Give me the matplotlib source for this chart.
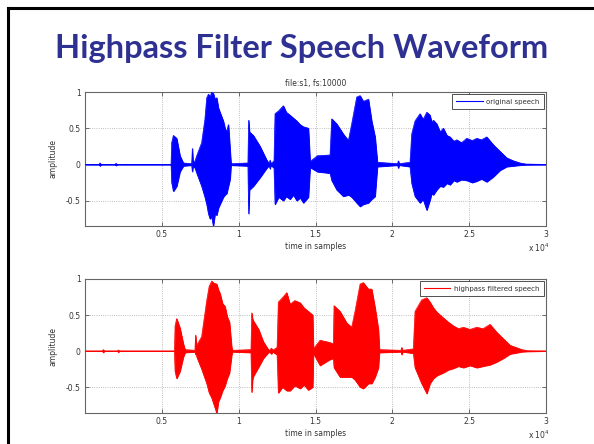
import numpy as np
import matplotlib
matplotlib.use("Agg")
import matplotlib.pyplot as plt
from matplotlib.lines import Line2D

# envelope of the speech signal (sample index, upper, lower)
t_orig = [0, 900, 976, 1050, 1950, 2017, 2090, 5600, 5640, 5750, 5965, 6180, 6400,
          6940, 6985, 7030, 7160, 7270, 7590, 7800, 7920, 8030, 8135, 8240, 8350,
          8460, 8570, 8680, 8785, 9000, 9110, 9220, 9330, 9440, 9500,
          10600, 10650, 10700, 10955, 11390, 11825, 11990, 12040,
          12090, 12300, 12365, 12600, 12905, 13100, 13340, 13560, 13780, 14000,
          14210, 14535, 14645, 15120,
          15945, 16055, 16380, 16810, 17140, 17355, 17680, 17900, 18110, 18440,
          18655, 18875, 19025, 20340, 20390, 20440, 21150, 21260, 21475, 21800,
          22000, 22240, 22450, 22560, 22670, 22890, 23100, 23320, 23550, 23755,
          24000, 24190, 24500, 24840, 25200, 25490, 25800, 26140,
          26575, 27010, 27445, 27875, 28310, 28700, 30000]
up_orig = [0, 0, 0.02, 0, 0, 0.015, 0, 0, 0.30, 0.40, 0.36, 0.12, 0.02,
           0.01, 0.22, 0.02, 0.05, 0.12, 0.30, 0.62, 0.92, 0.97, 0.93, 1.00, 0.98,
           0.90, 0.92, 0.78, 0.72, 0.60, 0.50, 0.45, 0.55, 0.20, 0.01,
           0.02, 0.61, 0.45, 0.40, 0.25, 0.06, 0.01, 0.06,
           0.01, 0.05, 0.70, 0.74, 0.81, 0.72, 0.68, 0.64, 0.60, 0.55,
           0.52, 0.50, 0.04, 0.12,
           0.13, 0.63, 0.56, 0.42, 0.33, 0.56, 0.93, 0.95, 0.87, 0.90,
           0.60, 0.38, 0.03, 0.01, 0.05, 0.01, 0.03, 0.42, 0.60, 0.70,
           0.62, 0.72, 0.68, 0.58, 0.61, 0.56, 0.45, 0.50, 0.40, 0.38,
           0.32, 0.34, 0.30, 0.36, 0.33, 0.36, 0.34, 0.38,
           0.27, 0.18, 0.09, 0.05, 0.02, 0.005, 0]
lo_orig = [0, 0, -0.02, 0, 0, -0.015, 0, 0, -0.25, -0.37, -0.30, -0.10, -0.02,
           -0.01, -0.10, -0.02, -0.05, -0.12, -0.30, -0.45, -0.55, -0.68, -0.75, -0.72, -0.85,
           -0.68, -0.70, -0.60, -0.55, -0.45, -0.42, -0.40, -0.30, -0.20, -0.01,
           -0.02, -0.68, -0.35, -0.30, -0.18, -0.05, -0.01, -0.06,
           -0.01, -0.05, -0.55, -0.45, -0.50, -0.44, -0.48, -0.42, -0.50, -0.46,
           -0.53, -0.45, -0.04, -0.10,
           -0.12, -0.22, -0.35, -0.44, -0.42, -0.45, -0.53, -0.58, -0.55, -0.53,
           -0.48, -0.44, -0.03, -0.01, -0.05, -0.01, -0.03, -0.26, -0.44, -0.53,
           -0.48, -0.63, -0.49, -0.40, -0.42, -0.35, -0.30, -0.31, -0.26, -0.28,
           -0.22, -0.24, -0.21, -0.22, -0.25, -0.23, -0.20, -0.24,
           -0.17, -0.08, -0.03, -0.02, -0.01, -0.005, 0]

# envelope after the highpass filter
t_hp = [0, 1120, 1190, 1260, 2100, 2170, 2240, 5820, 5860, 5965, 6180, 6400, 6510,
        7150, 7200, 7250, 7270, 7590, 7920, 8080, 8245, 8400, 8570, 8680, 8785,
        8950, 9110, 9250, 9400, 9545,
        9600, 10800, 10850, 10900, 10955, 11300, 11605, 11930, 12000, 12130, 12200,
        12500, 12580, 12850, 13125, 13340, 13650, 14000, 14250, 14535, 14815, 14860,
        15295, 15900,
        16160, 16205, 16595, 17030, 17355, 17570, 17900, 18110, 18440, 18655,
        18875, 19090, 19155, 20560, 20610, 20660, 21365, 21475, 21910, 22240,
        22450, 22670, 22900, 23105, 23320, 23650, 23970, 24300, 24620, 25050,
        25490, 25900, 26355, 26795, 27225,
        27660, 28420, 28800, 30000]
up_hp = [0, 0, 0.02, 0, 0, 0.015, 0, 0, 0.35, 0.45, 0.32, 0.10, 0.02,
         0.01, 0.22, 0.02, 0.08, 0.20, 0.70, 0.90, 0.97, 0.94, 0.93, 0.85, 0.80,
         0.66, 0.62, 0.48, 0.40, 0.05,
         0.01, 0.02, 0.53, 0.45, 0.42, 0.30, 0.13, 0.02, 0.01, 0.04, 0.01,
         0.05, 0.68, 0.74, 0.81, 0.65, 0.70, 0.67, 0.60, 0.55, 0.50, 0.03,
         0.15, 0.12,
         0.10, 0.63, 0.55, 0.39, 0.33, 0.55, 0.93, 0.95, 0.86, 0.86,
         0.60, 0.30, 0.02, 0.01, 0.05, 0.01, 0.03, 0.55, 0.71, 0.74,
         0.68, 0.60, 0.54, 0.50, 0.46, 0.40, 0.35, 0.31, 0.33, 0.30,
         0.33, 0.31, 0.37, 0.26, 0.17,
         0.08, 0.02, 0.005, 0]
lo_hp = [0, 0, -0.02, 0, 0, -0.015, 0, 0, -0.28, -0.38, -0.28, -0.08, -0.02,
         -0.01, -0.05, -0.02, -0.08, -0.25, -0.45, -0.58, -0.65, -0.75, -0.86, -0.70, -0.65,
         -0.55, -0.48, -0.38, -0.30, -0.05,
         -0.01, -0.02, -0.57, -0.40, -0.35, -0.22, -0.10, -0.02, -0.01, -0.04, -0.01,
         -0.05, -0.58, -0.50, -0.55, -0.55, -0.48, -0.52, -0.47, -0.54, -0.50, -0.03,
         -0.20, -0.12,
         -0.10, -0.23, -0.36, -0.36, -0.36, -0.40, -0.50, -0.52, -0.45, -0.45,
         -0.36, -0.23, -0.02, -0.01, -0.05, -0.01, -0.03, -0.23, -0.45, -0.59,
         -0.45, -0.38, -0.34, -0.32, -0.30, -0.26, -0.24, -0.21, -0.23, -0.20,
         -0.23, -0.21, -0.19, -0.15, -0.10,
         -0.04, -0.01, -0.005, 0]

xticks = [5000, 10000, 15000, 20000, 25000, 30000]
xticklabels = ['0.5', '1', '1.5', '2', '2.5', '3']
yticks = [-0.5, 0, 0.5, 1]
yticklabels = ['-0.5', '0', '0.5', '1']

txt = '#333333'
fig = plt.figure(figsize=(5.94, 4.44), dpi=100)

# slide frame
fig.add_artist(Line2D([7.5 / 594, 7.5 / 594], [0, 1 - 8.5 / 444], color='black', lw=2.2,
                      transform=fig.transFigure))
fig.add_artist(Line2D([7.5 / 594, 1], [1 - 8.5 / 444, 1 - 8.5 / 444], color='black', lw=2.2,
                      transform=fig.transFigure))
fig.text(302 / 594, 1 - 58 / 444, 'Highpass Filter Speech Waveform', ha='center',
         va='baseline', fontsize=23.5, fontweight='bold', family='Lato', color='#2E3192')


def panel(ax, t, up, lo, color, label):
    ax.fill_between(t, lo, up, color=color, lw=0.6, zorder=2)
    ax.plot(t, up, color=color, lw=0.5, label=label, zorder=3)
    ax.plot(t, lo, color=color, lw=0.5, zorder=3)
    ax.set_xlim(0, 30000)
    ax.set_ylim(min(lo), 1)
    ax.set_xticks(xticks)
    ax.set_xticklabels(xticklabels)
    ax.set_yticks(yticks)
    ax.set_yticklabels(yticklabels)
    ax.tick_params(direction='in', length=3, width=0.6, labelsize=5.5, colors='#555555',
                   labelcolor=txt, top=True, right=True, pad=3)
    ax.grid(True, ls=':', lw=0.6, color='#aaaaaa', zorder=0)
    ax.set_axisbelow(True)
    for s in ax.spines.values():
        s.set_color('#666666')
        s.set_linewidth(0.8)
    ax.set_xlabel('time in samples', fontsize=5.5, color=txt, labelpad=2)
    ax.set_ylabel('amplitude', fontsize=5.5, color=txt, labelpad=6)
    ax.text(0.985, -0.165, r'x 10$^4$', transform=ax.transAxes, fontsize=5.5, color=txt,
            ha='center', va='center')
    leg = ax.legend(loc='upper right', fontsize=5, handlelength=3.8, fancybox=False,
                    framealpha=1, borderpad=0.6, borderaxespad=0.35, handletextpad=0.5)
    leg.get_frame().set_edgecolor('#333333')
    leg.get_frame().set_linewidth(0.6)
    for line in leg.get_lines():
        line.set_linewidth(0.8)
    for text in leg.get_texts():
        text.set_color(txt)


ax1 = fig.add_axes([85 / 594, 1 - 226 / 444, 461 / 594, 134 / 444])
panel(ax1, t_orig, up_orig, lo_orig, 'blue', 'original speech')
ax1.set_title('file:s1, fs:10000', fontsize=5.5, color=txt, pad=4)

ax2 = fig.add_axes([85 / 594, 1 - 413 / 444, 461 / 594, 134 / 444])
panel(ax2, t_hp, up_hp, lo_hp, 'red', 'highpass filtered speech')

fig.savefig('out.png', dpi=100)
